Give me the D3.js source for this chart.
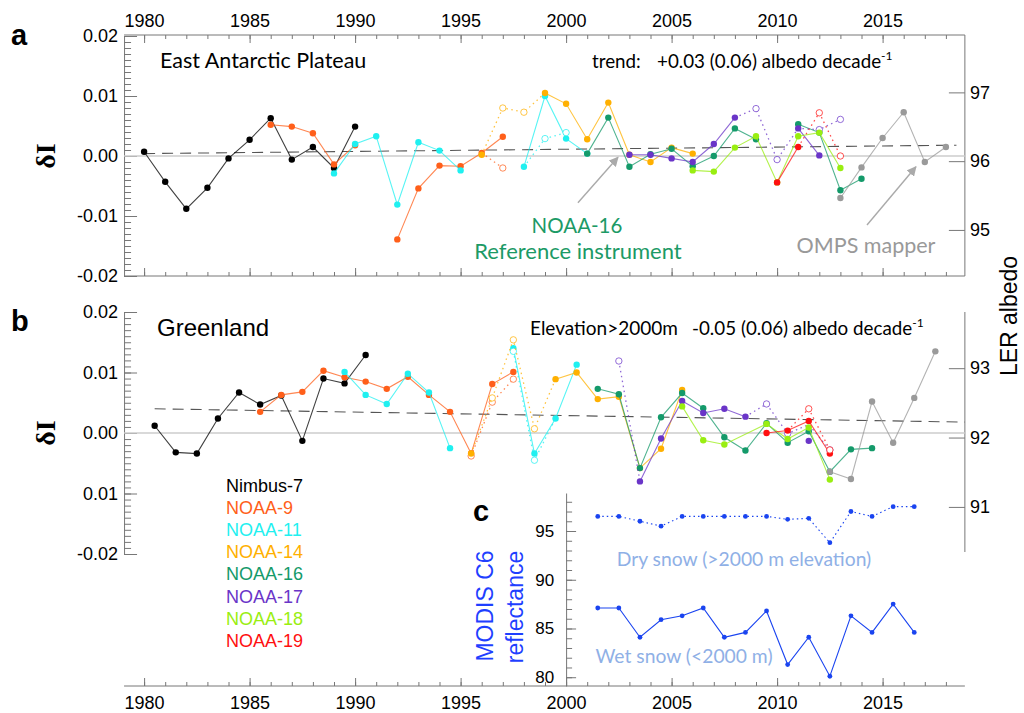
<!DOCTYPE html>
<html lang="en">
<head>
<meta charset="UTF-8">
<title>LER albedo time series</title>
<script src="https://d3js.org/d3.v7.min.js"></script>
<style>
  body { margin: 0; background: #fff; }
  svg text { font-family: "Liberation Sans", Arial, sans-serif; }
  .note { font-family: Lato, "Open Sans", sans-serif; }
  .axis path, .axis line { stroke: #777; }
  .axis text { font-size: 18px; fill: #000; font-family: "Liberation Sans", Arial, sans-serif; }
</style>
</head>
<body>
<svg id="chart" width="1024" height="713"></svg>
<script>
// ---- data ----
const yearTicks = [1980, 1985, 1990, 1995, 2000, 2005, 2010, 2015];
const allYears = d3.range(1980, 2019);
const dTicks = [-0.02, -0.01, 0, 0.01, 0.02];
const dLabelsA = ["-0.02", "-0.01", "0.00", "0.01", "0.02"];
const dLabelsB = ["-0.02", "0.01", "0.00", "0.01", "0.02"];
const lerTicksA = [95, 96, 97];
const lerTicksB = [91, 92, 93];
const modisTicks = [80, 85, 90, 95];

const satNames = ["Nimbus-7", "NOAA-9", "NOAA-11", "NOAA-14", "NOAA-16", "NOAA-17", "NOAA-18", "NOAA-19"];
const satColors = ["#000000", "#ff5f1a", "#1ff0f0", "#ffb000", "#149a6a", "#6a35c8", "#99ee11", "#ff1010"];
const ompsColor = "#9a9a9a";

// panel a: East Antarctic Plateau (yearly)
const aNimbus7 = [[1980,0.0007],[1981,-0.0043],[1982,-0.0088],[1983,-0.0053],[1984,-0.0004],[1985,0.0027],[1986,0.0063],[1987,-0.0006],[1988,0.0015],[1989,-0.0020],[1990,0.0049]];
const aNoaa9 = [[1986,0.0052],[1987,0.0049],[1988,0.0038],[1989,-0.0014],[1990,0.0018],[1991,null],[1992,-0.0139],[1993,-0.0054],[1994,-0.0016],[1995,-0.0017],[1996,0.0005],[1997,0.0032]];
const aNoaa9Alt = [[1996,0.0005,0],[1997,-0.0020,1]];
const aNoaa11 = [[1989,-0.0029],[1990,0.0020],[1991,0.0033],[1992,-0.0081],[1993,0.0023],[1994,0.0009],[1995,-0.0024],[1996,null],[1998,-0.0018],[1999,0.0100],[2000,0.0029],[2001,0.0004]];
const aNoaa11Alt = [[1998,-0.0018,0],[1999,0.0029,1],[2000,0.0039,1]];
const aNoaa14 = [[1996,0.0002],[1997,null],[1999,0.0105],[2000,0.0087],[2001,0.0028],[2002,0.0089],[2003,0.0002],[2004,-0.0010],[2005,0.0014],[2006,0.0004]];
const aNoaa14Alt = [[1996,0.0002,0],[1997,0.0080,1],[1998,0.0073,1],[1999,0.0105,0]];
const aNoaa16 = [[2001,0.0004],[2002,0.0064],[2003,-0.0018],[2004,0.0003],[2005,0.0012],[2006,-0.0017],[2007,0.0000],[2008,0.0046],[2009,0.0028],[2010,null],[2011,0.0053],[2012,0.0039],[2013,-0.0057],[2014,-0.0038]];
const aNoaa17 = [[2003,0.0002],[2004,0.0002],[2005,-0.0004],[2006,-0.0010],[2007,0.0020],[2008,0.0064],[2009,null],[2011,0.0046],[2012,0.0001]];
const aNoaa17Alt = [[2008,0.0064,0],[2009,0.0079,1],[2010,-0.0006,1],[2011,0.0046,0],[2012,0.0044,1],[2013,0.0061,1]];
const aNoaa18 = [[2006,-0.0024],[2007,-0.0026],[2008,0.0014],[2009,0.0033],[2010,-0.0044],[2011,0.0033],[2012,0.0039],[2013,-0.0020]];
const aNoaa19 = [[2010,-0.0044],[2011,0.0015]];
const aNoaa19Alt = [[2011,0.0015,0],[2012,0.0072,1],[2013,0.0000,1]];
const aOmps = [[2013,-0.0070],[2014,-0.0019],[2015,0.0030],[2016,0.0073],[2017,-0.0010],[2018,0.0015]];
const aTrend = [[1980,0.0004],[2018.5,0.0018]];

// panel b: Greenland, elevation > 2000 m (mid-year)
const bNimbus7 = [[1980.5,0.0012],[1981.5,-0.0032],[1982.5,-0.0034],[1983.5,0.0024],[1984.5,0.0067],[1985.5,0.0047],[1986.5,0.0062],[1987.5,-0.0013],[1988.5,0.0090],[1989.5,0.0082],[1990.5,0.0129]];
const bNoaa9 = [[1985.5,0.0035],[1986.5,0.0063],[1987.5,0.0068],[1988.5,0.0103],[1989.5,0.0092],[1990.5,0.0085],[1991.5,0.0073],[1992.5,0.0093],[1993.5,0.0063],[1994.5,0.0035],[1995.5,-0.0034],[1996.5,0.0081],[1997.5,0.0101]];
const bNoaa9Alt = [[1995.5,-0.0038,1],[1996.5,0.0051,1],[1997.5,0.0089,1]];
const bNoaa11 = [[1989.5,0.0101],[1990.5,0.0063],[1991.5,0.0048],[1992.5,0.0098],[1993.5,0.0067],[1994.5,-0.0025],[1995.5,null],[1997.5,0.0140],[1998.5,-0.0034],[1999.5,0.0024],[2000.5,0.0113]];
const bNoaa11Alt = [[1997.5,0.0135,1],[1998.5,-0.0045,1],[1999.5,0.0024,0]];
const bNoaa14 = [[1995.5,-0.0034],[1996.5,null],[1999.5,0.0089],[2000.5,0.0100],[2001.5,0.0056],[2002.5,0.0060],[2003.5,-0.0058],[2004.5,-0.0026],[2005.5,0.0071]];
const bNoaa14Alt = [[1995.5,-0.0034,0],[1996.5,0.0058,1],[1997.5,0.0154,1],[1998.5,0.0007,1],[1999.5,0.0089,0]];
const bNoaa16 = [[2001.5,0.0073],[2002.5,0.0064],[2003.5,-0.0058],[2004.5,0.0026],[2005.5,0.0066],[2006.5,0.0041],[2007.5,-0.0007],[2008.5,-0.0029],[2009.5,0.0016],[2010.5,-0.0016],[2011.5,0.0003],[2012.5,-0.0064],[2013.5,-0.0027],[2014.5,-0.0025]];
const bNoaa17 = [[2003.5,-0.0080],[2004.5,-0.0009],[2005.5,0.0053],[2006.5,0.0033],[2007.5,0.0040],[2008.5,0.0027],[2009.5,null],[2011.5,-0.0013]];
const bNoaa17Alt = [[2002.5,0.0119,1],[2003.5,-0.0080,0],[2003.5,null,0],[2008.5,0.0027,0],[2009.5,0.0048,1],[2010.5,-0.0001,1],[2011.5,0.0014,0],[2012.5,-0.0028,1]];
const bNoaa18 = [[2005.5,0.0044],[2006.5,-0.0012],[2007.5,-0.0019],[2009.5,0.0015],[2010.5,-0.0010],[2011.5,0.0009],[2012.5,-0.0077]];
const bNoaa19 = [[2009.5,0.0000],[2010.5,0.0004],[2011.5,0.0020],[2012.5,-0.0034]];
const bNoaa19Alt = [[2010.5,0.0004,0],[2011.5,0.0040,1],[2012.5,-0.0028,1]];
const bOmps = [[2012.5,-0.0064],[2013.5,-0.0076],[2014.5,0.0052],[2015.5,-0.0016],[2016.5,0.0058],[2017.5,0.0135]];
const bTrend = [[1980.5,0.0040],[2018.9,0.0018]];

// panel c: MODIS C6 reflectance
const modisYears = [2001.5,2002.5,2003.5,2004.5,2005.5,2006.5,2007.5,2008.5,2009.5,2010.5,2011.5,2012.5,2013.5,2014.5,2015.5,2016.5];
const drySnow = [96.5,96.5,96.0,95.5,96.5,96.5,96.5,96.5,96.5,96.2,96.3,93.8,97.0,96.5,97.5,97.5];
const wetSnow = [87.1,87.1,84.1,85.9,86.3,87.1,84.1,84.6,86.8,81.3,84.1,80.1,86.3,84.6,87.5,84.6];

// ---- scales ----
const x = d3.scaleLinear().domain([1979, 2019]).range([123, 967]);
const yA = d3.scaleLinear().domain([-0.02, 0.02]).range([276, 36]);
const rA = d3.scaleLinear().domain([94.33, 97.82]).range([276, 36]);
const yB = d3.scaleLinear().domain([-0.02, 0.02]).range([554, 312]);
const rB = d3.scaleLinear().domain([90.35, 93.81]).range([552, 312]);
const yC = d3.scaleLinear().domain([79.1, 98.9]).range([686, 493]);

const svg = d3.select("#chart");
const xLeft = x(1979.05), xRight = x(2018.9);

// ---- axes ----
function leftAxis(y, labels) {
  const g = svg.append("g").attr("class", "axis").attr("transform", `translate(${xLeft},0)`);
  g.call(d3.axisLeft(y).tickValues(d3.range(-0.02, 0.02001, 0.001)).tickSizeInner(-7).tickSizeOuter(0).tickFormat(""));
  const m = svg.append("g").attr("class", "axis").attr("transform", `translate(${xLeft},0)`);
  m.call(d3.axisLeft(y).tickValues(dTicks).tickSizeInner(-13).tickSizeOuter(0).tickPadding(6)
    .tickFormat((d, i) => labels[i]));
  m.select(".domain").remove();
}
leftAxis(yA, dLabelsA);
leftAxis(yB, dLabelsB);

function rightAxis(r, ticks, y0, y1) {
  const g = svg.append("g").attr("class", "axis").attr("transform", `translate(${xRight},0)`);
  g.call(d3.axisRight(r).tickValues(ticks).tickSizeInner(-16).tickSizeOuter(0).tickPadding(5).tickFormat(d3.format("d")));
  g.select(".domain").attr("d", `M0,${y0}V${y1}`);
}
rightAxis(rA, lerTicksA, 35, 276);
rightAxis(rB, lerTicksB, 312, 552);

function yearAxis(gen, yPos, size, labels, pad) {
  const g = svg.append("g").attr("class", "axis").attr("transform", `translate(0,${yPos})`);
  g.call(gen(x).tickValues(allYears).tickSizeInner(-4).tickSizeOuter(0).tickFormat(""));
  g.select(".domain").attr("d", `M${xLeft},0H${xRight}`);
  const m = svg.append("g").attr("class", "axis").attr("transform", `translate(0,${yPos})`);
  m.call(gen(x).tickValues(yearTicks).tickSizeInner(-size).tickSizeOuter(0).tickPadding(pad)
    .tickFormat(labels ? d3.format("d") : ""));
  m.select(".domain").remove();
}
yearAxis(d3.axisTop, 35, 8, true, 8);
yearAxis(d3.axisBottom, 276, 8, false, 0);
yearAxis(d3.axisBottom, 686, 8, true, 10);

// ---- panel a / b content ----
function zeroAndTrend(y, trend) {
  svg.append("line").attr("x1", xLeft).attr("x2", xRight).attr("y1", y(0)).attr("y2", y(0))
    .attr("stroke", "#cccccc").attr("stroke-width", 1.6);
  svg.append("line").attr("x1", x(trend[0][0])).attr("x2", x(trend[1][0]))
    .attr("y1", y(trend[0][1])).attr("y2", y(trend[1][1]))
    .attr("stroke", "#555").attr("stroke-width", 1.1).attr("stroke-dasharray", "11,7");
}
zeroAndTrend(yA, aTrend);
zeroAndTrend(yB, bTrend);

function drawSeries(y, solid, alt, color) {
  const g = svg.append("g");
  const line = d3.line().defined(d => d[1] !== null).x(d => x(d[0])).y(d => y(d[1]));
  if (alt) {
    g.append("path").datum(alt).attr("d", line).attr("fill", "none").attr("stroke", color)
      .attr("stroke-width", 1.3).attr("stroke-dasharray", "1.5,3.5").attr("stroke-opacity", 0.75);
  }
  g.append("path").datum(solid).attr("d", line).attr("fill", "none").attr("stroke", color)
    .attr("stroke-width", 1.1).attr("stroke-opacity", 0.75);
  g.selectAll("circle.s").data(solid.filter(d => d[1] !== null)).join("circle").attr("class", "s")
    .attr("cx", d => x(d[0])).attr("cy", d => y(d[1])).attr("r", 3.2).attr("fill", color);
  if (alt) {
    g.selectAll("circle.o").data(alt.filter(d => d[2] === 1)).join("circle").attr("class", "o")
      .attr("cx", d => x(d[0])).attr("cy", d => y(d[1])).attr("r", 3.2)
      .attr("fill", "#fff").attr("stroke", color).attr("stroke-width", 0.9).attr("stroke-opacity", 0.8);
  }
}
const seriesA = [[aNimbus7, null], [aNoaa9, aNoaa9Alt], [aNoaa11, aNoaa11Alt], [aNoaa14, aNoaa14Alt],
  [aNoaa16, null], [aNoaa17, aNoaa17Alt], [aNoaa18, null], [aNoaa19, aNoaa19Alt]];
const seriesB = [[bNimbus7, null], [bNoaa9, bNoaa9Alt], [bNoaa11, bNoaa11Alt], [bNoaa14, bNoaa14Alt],
  [bNoaa16, null], [bNoaa17, bNoaa17Alt], [bNoaa18, null], [bNoaa19, bNoaa19Alt]];
seriesA.forEach((s, i) => drawSeries(yA, s[0], s[1], satColors[i]));
drawSeries(yA, aOmps, null, ompsColor);
seriesB.forEach((s, i) => drawSeries(yB, s[0], s[1], satColors[i]));
drawSeries(yB, bOmps, null, ompsColor);

// ---- panel c ----
const cx = x(2000);
const cAxisMinor = svg.append("g").attr("class", "axis c").attr("transform", `translate(${cx},0)`);
cAxisMinor.call(d3.axisLeft(yC).tickValues(d3.range(80, 99)).tickSizeInner(-6).tickSizeOuter(0).tickFormat(""));
const cAxis = svg.append("g").attr("class", "axis c").attr("transform", `translate(${cx},0)`);
cAxis.call(d3.axisLeft(yC).tickValues(modisTicks).tickSizeInner(-10).tickSizeOuter(0).tickPadding(12));
cAxis.select(".domain").remove();
svg.selectAll(".c path, .c line").attr("stroke", "#3355ff");
svg.selectAll(".c text").attr("fill", "#1f3fff").style("font-size", "17px");

const blue = "#1a44f0";
const modisLine = d3.line().x(d => x(d[0])).y(d => yC(d[1]));
[[drySnow, "1.5,3"], [wetSnow, null]].forEach(([vals, dash]) => {
  const pts = modisYears.map((yr, i) => [yr, vals[i]]);
  svg.append("path").datum(pts).attr("d", modisLine).attr("fill", "none").attr("stroke", blue)
    .attr("stroke-width", 1.1).attr("stroke-dasharray", dash);
  svg.append("g").selectAll("circle").data(pts).join("circle")
    .attr("cx", d => x(d[0])).attr("cy", d => yC(d[1])).attr("r", 2.4).attr("fill", blue);
});

// ---- texts ----
function label(t, px, py, opts = {}) {
  const e = svg.append("text").attr("x", px).attr("y", py).text(t)
    .style("font-size", (opts.size || 18) + "px").attr("fill", opts.color || "#000");
  if (opts.cls) e.attr("class", opts.cls);
  if (opts.anchor) e.attr("text-anchor", opts.anchor);
  if (opts.bold) e.style("font-weight", "bold");
  if (opts.rotate) e.attr("transform", `rotate(-90,${px},${py})`);
  return e;
}
label("a", 11, 45, { size: 29, bold: true });
label("b", 11, 331, { size: 29, bold: true });
label("c", 473, 521, { size: 29, bold: true });

label("East Antarctic Plateau", 160, 68, { size: 21.5, cls: "note" });
label("trend:", 592, 68, { size: 18.8, cls: "note" });
label("+0.03 (0.06) albedo decade", 657, 68, { size: 18.8, cls: "note" })
  .append("tspan").attr("dy", -8).style("font-size", "12px").text("-1");
label("Greenland", 157, 336, { size: 24 });
label("Elevation>2000m", 530, 335, { size: 19, cls: "note" });
label("-0.05 (0.06) albedo decade", 692, 335, { size: 18.8, cls: "note" })
  .append("tspan").attr("dy", -8).style("font-size", "12px").text("-1");

label("NOAA-16", 577, 233, { size: 20.5, cls: "note", anchor: "middle", color: "#1c9a66" });
label("Reference instrument", 578, 259, { size: 22, cls: "note", anchor: "middle", color: "#1c9a66" });
label("OMPS mapper", 866, 253, { size: 21.5, cls: "note", anchor: "middle", color: "#999" });

label("Dry snow (>2000 m elevation)", 744, 566, { size: 19.3, cls: "note", anchor: "middle", color: "#8fb0e6" });
label("Wet snow (<2000 m)", 684, 663, { size: 19.3, cls: "note", anchor: "middle", color: "#8fb0e6" });
label("MODIS C6", 493, 606, { size: 23, anchor: "middle", color: "#1f3fff", rotate: true });
label("reflectance", 523, 607, { size: 23, anchor: "middle", color: "#1f3fff", rotate: true });

label("LER albedo", 1017, 316, { size: 23, anchor: "middle", rotate: true });
[yA(0), yB(0)].forEach(py => {
  label("δI", 55, py, { size: 28, anchor: "middle", bold: true, rotate: true })
    .style("font-family", "'Liberation Serif', 'DejaVu Serif', serif");
});

// legend
satNames.forEach((n, i) => label(n, 226, 491.5 + i * 22.2, { size: 18, color: satColors[i] }));

// arrows
svg.append("defs").append("marker").attr("id", "head").attr("viewBox", "0 0 10 10")
  .attr("refX", 9).attr("refY", 5).attr("markerWidth", 7).attr("markerHeight", 7).attr("orient", "auto")
  .append("path").attr("d", "M0,0L10,5L0,10Z").attr("fill", "#aaa");
const arrows = [[[2000.56, -0.0078], [2002.46, -0.0002]], [[2014.26, -0.0115], [2016.58, -0.0018]]];
arrows.forEach(([p0, p1]) => {
  svg.append("line").attr("x1", x(p0[0])).attr("y1", yA(p0[1])).attr("x2", x(p1[0])).attr("y2", yA(p1[1]))
    .attr("stroke", "#aaa").attr("stroke-width", 1.4).attr("marker-end", "url(#head)");
});
</script>
</body>
</html>
